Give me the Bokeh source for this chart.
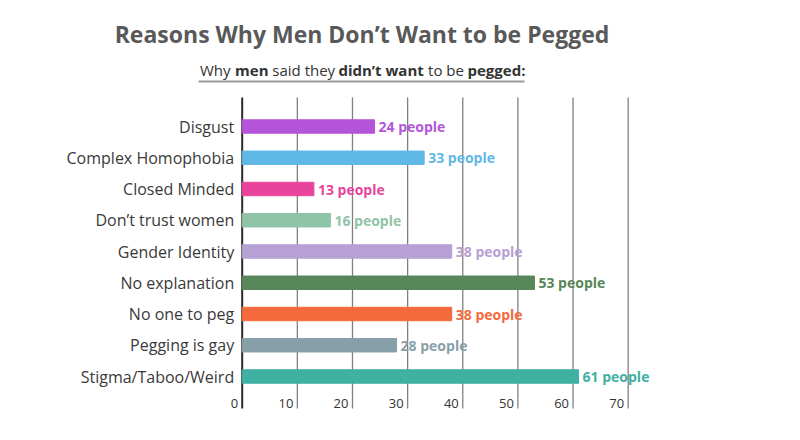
from bokeh.plotting import figure
from bokeh.models import Range1d, ColumnDataSource
from bokeh.core.properties import value
from bokeh.embed import file_html
from bokeh.resources import INLINE

# ---- data ----
categories = ["Disgust", "Complex Homophobia", "Closed Minded", "Don\u2019t trust women",
              "Gender Identity", "No explanation", "No one to peg", "Pegging is gay",
              "Stigma/Taboo/Weird"]
counts = [24, 33, 13, 16, 38, 53, 38, 28, 61]
bar_colors = ["#b455d9", "#60b8e6", "#e8449c", "#90c4a6", "#b6a0d4",
              "#578658", "#f56a3c", "#879fa9", "#3fb0a2"]
x_ticks = [0, 10, 20, 30, 40, 50, 60, 70]
title_text = "Reasons Why Men Don\u2019t Want to be Pegged"
subtitle_parts = [("Why", False), ("men", True), ("said they", False),
                  ("didn\u2019t want", True), ("to be", False), ("pegged:", True)]

FONT = "Open Sans"
W, H = 784, 424
PX0, PX_PER_UNIT = 241.7, 5.514       # pixel of value 0, pixels per count
ROW0_PX, ROW_PX = 126.0, 31.25        # pixel of first row centre, row pitch

def fx(px):
    return (px - PX0) / PX_PER_UNIT

def fy(py):
    return (len(categories) - 1) - (py - ROW0_PX) / ROW_PX

n = len(categories)
ypos = [n - 1 - i for i in range(n)]
labels = [f"{c} people" for c in counts]
src = ColumnDataSource(dict(y=ypos, count=counts, color=bar_colors, label=labels,
                            cat=categories))

p = figure(width=W, height=H, x_range=Range1d(fx(0), fx(W)), y_range=Range1d(fy(H), fy(0)),
           output_backend="svg", toolbar_location=None,
           x_axis_location=None, y_axis_location=None,
           min_border=0, min_border_left=0, min_border_right=0,
           min_border_top=0, min_border_bottom=0)
p.grid.visible = False
p.outline_line_color = None
p.background_fill_color = "white"
p.border_fill_color = "white"

# gridlines and value axis line
y_top, y_bot = fy(97), fy(408)
p.segment(x0=x_ticks[1:], y0=[y_top] * (len(x_ticks) - 1), x1=x_ticks[1:],
          y1=[y_bot] * (len(x_ticks) - 1), line_color="#808080", line_width=1.3)
p.segment(x0=[0], y0=[y_top], x1=[0], y1=[y_bot], line_color="#2a2a2a", line_width=2)

# bars and value labels
p.hbar(y="y", left=0, right="count", height=0.43, color="color", source=src)
p.text(x="count", y="y", text="label", x_offset=4, text_baseline="middle",
       text_font=value(FONT), text_font_style="bold", text_font_size="14px",
       text_color="color", source=src)

# category labels
p.text(x=0, y="y", text="cat", x_offset=-8, text_align="right", text_baseline="middle",
       text_font=value(FONT), text_font_size="16px", text_color="#3a3a3a", source=src)

# x tick labels
p.text(x=x_ticks, y=[fy(403)] * len(x_ticks), text=[str(t) for t in x_ticks],
       x_offset=-4, text_align="right", text_baseline="middle",
       text_font=value(FONT), text_font_size="13px", text_color="#333333")

# title
p.text(x=[fx(361.5)], y=[fy(33.5)], text=[title_text], text_align="center",
       text_baseline="middle", text_font=value(FONT), text_font_style="bold",
       text_font_size="23px", text_color="#595959")

# subtitle
sub_x = [199.5, 234.6, 271.8, 337.9, 427.6, 467.0]
for (txt, bold), sx in zip(subtitle_parts, sub_x):
    p.text(x=[fx(sx)], y=[fy(69.5)], text=[txt], text_align="left",
           text_baseline="middle", text_font=value(FONT),
           text_font_style="bold" if bold else "normal",
           text_font_size="15px", text_color="#333333")

p.segment(x0=[fx(198)], y0=[fy(81)], x1=[fx(524)], y1=[fy(81)],
          line_color="#9a9a9a", line_width=2)

open("out.html", "w").write(file_html(p, INLINE))
